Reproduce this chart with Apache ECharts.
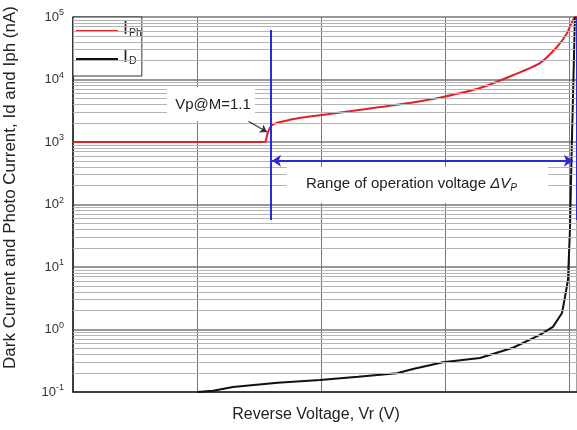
<!DOCTYPE html>
<html>
<head>
<meta charset="utf-8">
<script src="https://cdn.jsdelivr.net/npm/echarts@6/dist/echarts.min.js"></script>
<style>
html,body{margin:0;padding:0;background:#fff;}
#chart{width:577px;height:430px;}
</style>
</head>
<body>
<div id="chart"></div>
<script>
// ---- data (x in arbitrary reverse-voltage units, y in nA) ----
const photoX = [0, 15.48, 15.6, 15.73, 15.97, 16.37, 17.0, 17.8, 19.1, 22.3, 24.76, 27.4, 29.84, 32.82, 35.48, 37.66, 39.03, 39.84, 40.32, 40.6];
const photoY = [1000, 1000, 1150, 1445, 1800, 2000, 2150, 2330, 2550, 3100, 3630, 4300, 5250, 7310, 11700, 18300, 33100, 55000, 89500, 105000];
const darkX = [10.0, 11.3, 12.9, 16.5, 19.92, 23.0, 26.13, 27.42, 29.84, 32.82, 35.48, 37.66, 38.71, 39.44, 39.68, 39.92, 40.08, 40.24, 40.4, 40.48];
const darkY = [0.1, 0.105, 0.12, 0.14, 0.156, 0.175, 0.20, 0.233, 0.30, 0.35, 0.51, 0.82, 1.1, 1.84, 3.3, 6.2, 39, 1070, 20400, 100000];
const yTicks = [0.1, 1, 10, 100, 1000, 10000, 100000];
const xTicks = [0, 10, 20, 30, 40];
const vpX = 15.93;          // Vp@M=1.1 marker position
const rangeEndX = 40.6;     // breakdown end
const rangeArrow = {x0: 16.05, x1: 40.32, y: 500};
const vpLineY = [62000, 56.5];
const rightLineY = [100000, 56.5];
const vpArrow = {x0: 14.11, y0: 2170, x1: 15.65, y1: 1445};
const vpLabelPos = [11.13, 4000];
const rangeLabelPos = [27.78, 205];
const seriesNames = ['IPh', 'ID'];

const FONT = 'Liberation Sans, Arial, sans-serif';
const minorLines = [];
for (let k = -1; k <= 4; k++) {
  for (let m = 2; m <= 9; m++) minorLines.push({yAxis: m * Math.pow(10, k)});
}

const chart = echarts.init(document.getElementById('chart'), null, {renderer: 'canvas'});
chart.setOption({
  animation: false,
  backgroundColor: '#fff',
  textStyle: {fontFamily: FONT},
  grid: {left: 73, top: 17, right: 0, bottom: 38, outerBoundsMode: 'none', containLabel: false,
    show: true, borderColor: '#444', borderWidth: 1, backgroundColor: 'transparent'},
  legend: {
    data: seriesNames,
    orient: 'vertical',
    left: 73, top: 17,
    icon: 'rect', itemWidth: 42, itemHeight: 2, itemGap: 9,
    padding: [3, 0, 9, 3],
    backgroundColor: '#fff', borderColor: '#333', borderWidth: 1, borderRadius: 0,
    formatter: n => n === 'IPh' ? '{b|I}{s|Ph}' : '{b|I}{s|D}',
    textStyle: {
      fontFamily: FONT, color: '#222',
      rich: {
        b: {fontSize: 18, fontFamily: FONT, color: '#222', padding: [0, 0, 4, 0]},
        s: {fontSize: 10.5, fontFamily: FONT, color: '#222', padding: [5, 0, 0, 1]}
      }
    }
  },
  xAxis: {
    type: 'value', min: 0, max: 40.65, interval: 10,
    name: 'Reverse Voltage, Vr (V)', nameLocation: 'middle', nameGap: 15,
    nameTextStyle: {fontSize: 16, color: '#222', fontFamily: FONT, padding: [0, 18, 0, 0]},
    axisLine: {show: true, lineStyle: {color: '#222', width: 1.5}},
    axisTick: {show: false}, axisLabel: {show: false},
    splitLine: {show: true, lineStyle: {color: '#777', width: 1}}
  },
  yAxis: {
    type: 'log', logBase: 10, min: 0.1, max: 100000, interval: 1,
    name: 'Dark Current and Photo Current, Id and Iph (nA)', nameLocation: 'middle', nameGap: 54,
    nameTextStyle: {fontSize: 17, color: '#222', fontFamily: FONT, padding: [0, 0, 0, 34]},
    axisLine: {show: true, lineStyle: {color: '#222', width: 1.5}},
    axisTick: {show: false},
    axisLabel: {
      margin: 9, color: '#222',
      formatter: v => '{b|10}{s|' + Math.round(Math.log10(v)) + '}',
      rich: {
        b: {fontSize: 13, fontFamily: FONT, color: '#333'},
        s: {fontSize: 9, fontFamily: FONT, color: '#333', padding: [0, 0, 8, 0]}
      }
    },
    splitLine: {show: true, lineStyle: {color: '#999', width: 2}}
  },
  series: [
    {
      type: 'line', name: 'minor', z: 1, silent: true, data: [],
      markLine: {silent: true, symbol: 'none', label: {show: false}, animation: false,
        lineStyle: {color: '#b4b4b4', width: 1, type: 'solid'}, data: minorLines}
    },
    {
      type: 'line', name: 'IPh', z: 3, showSymbol: false, symbol: 'none', smooth: 0.2,
      lineStyle: {color: '#e0202a', width: 2}, itemStyle: {color: '#e0202a'},
      data: photoX.map((x, i) => [x, photoY[i]])
    },
    {
      type: 'line', name: 'ID', z: 3, showSymbol: false, symbol: 'none',
      lineStyle: {color: '#111', width: 2}, itemStyle: {color: '#111'},
      data: darkX.map((x, i) => [x, darkY[i]])
    },
    {
      type: 'line', name: 'annot', z: 4, silent: true, data: [],
      markPoint: {
        silent: true, animation: false,
        data: [
          {coord: vpLabelPos, symbol: 'rect', symbolSize: [88, 34], itemStyle: {color: '#fff'},
            label: {show: true, position: 'inside', offset: [2, 0], formatter: 'Vp@M=1.1', fontSize: 15, color: '#222', fontFamily: FONT}},
          {coord: rangeLabelPos, symbol: 'rect', symbolSize: [261, 36], itemStyle: {color: '#fff'},
            label: {show: true, position: 'inside', offset: [-6, -1], formatter: 'Range of operation voltage {i|\u0394V}{s|P}', fontSize: 15, color: '#222', fontFamily: FONT,
              rich: {i: {fontSize: 15, fontStyle: 'italic', color: '#222', fontFamily: FONT}, s: {fontSize: 10, fontStyle: 'italic', color: '#222', fontFamily: FONT, padding: [8, 0, 0, 0]}}}}
        ]
      },
      markLine: {
        silent: true, animation: false, label: {show: false},
        data: [
          [{coord: [vpX, vpLineY[0]], symbol: 'none'}, {coord: [vpX, vpLineY[1]], symbol: 'none', lineStyle: {color: '#2a2ad8', width: 2, type: 'solid'}}],
          [{coord: [rangeEndX, rightLineY[0]], symbol: 'none'}, {coord: [rangeEndX, rightLineY[1]], symbol: 'none', lineStyle: {color: '#2a2ad8', width: 2, type: 'solid'}}],
          [{coord: [rangeArrow.x0, rangeArrow.y], symbol: 'arrow', symbolSize: 9}, {coord: [rangeArrow.x1, rangeArrow.y], symbol: 'arrow', symbolSize: 9, lineStyle: {color: '#2a2ad8', width: 2, type: 'solid'}}],
          [{coord: [vpArrow.x0, vpArrow.y0], symbol: 'none'}, {coord: [vpArrow.x1, vpArrow.y1], symbol: 'arrow', symbolSize: 7, lineStyle: {color: '#333', width: 1.2, type: 'solid'}}]
        ]
      }
    }
  ]
});
</script>
</body>
</html>
